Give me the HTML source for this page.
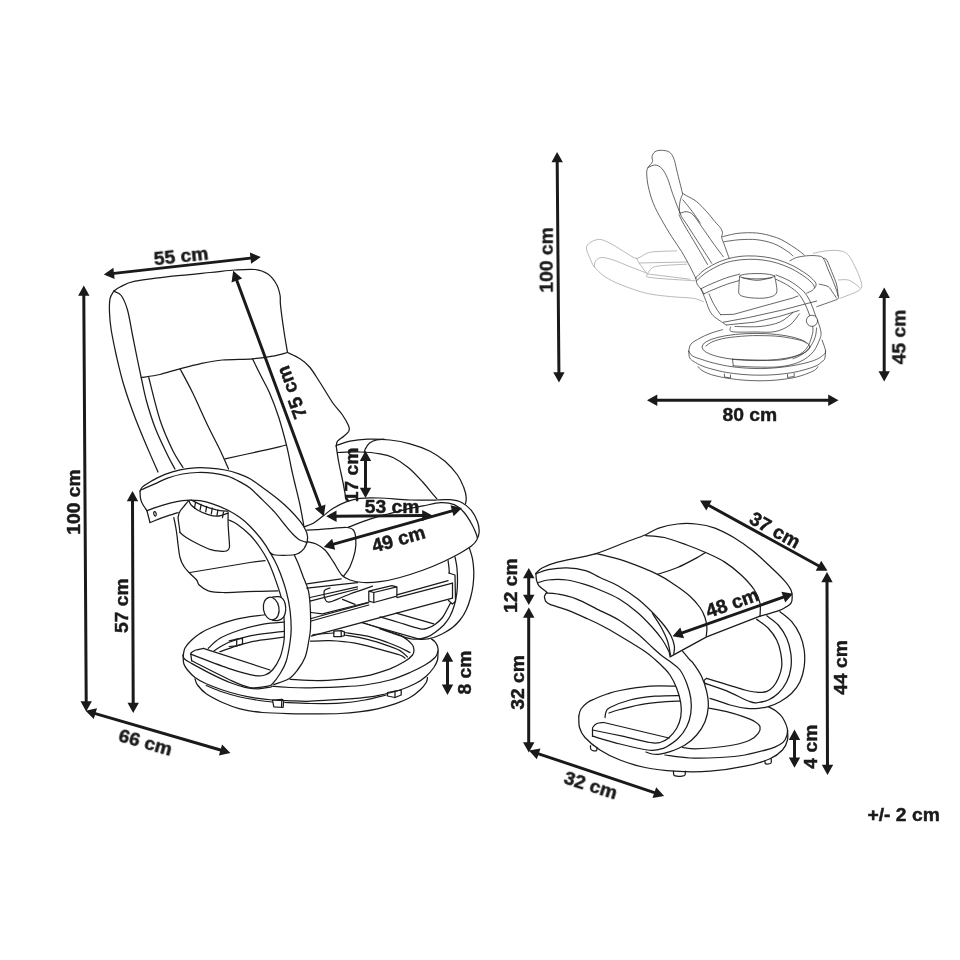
<!DOCTYPE html>
<html lang="en"><head><meta charset="utf-8"><title>Recliner dimensions</title>
<style>
html,body{margin:0;padding:0;background:#fff;}
body{width:960px;height:960px;overflow:hidden;font-family:"Liberation Sans",sans-serif;}
svg{display:block;}
.t{font-family:"Liberation Sans",sans-serif;font-weight:bold;font-size:19.2px;fill:#1a1a1a;stroke:#1a1a1a;stroke-width:0.45px;text-anchor:middle;}
</style></head><body>
<svg width="960" height="960" viewBox="0 0 960 960">
<rect width="960" height="960" fill="#fff"/>
<g fill="none" stroke="#1a1a1a" stroke-width="1.25" stroke-linecap="round" stroke-linejoin="round">
<path d="M113.8 291.2C114.8 290.5 116.5 288.7 120 287C123.5 285.3 126.2 283 135 281.2C143.8 279.5 160 277.7 172.5 276.2C185 274.8 199.6 273.5 210 272.5C220.4 271.5 227.5 270.5 235 270C242.5 269.5 249.6 268.9 255 269.5C260.4 270.1 264 271.4 267.5 273.8C271 276.1 274.2 280.2 276.2 283.8C278.3 287.3 279.3 291.5 280 295C280.7 298.5 279.9 299.2 280.5 305C281.1 310.8 282.6 322.1 283.8 330C284.9 337.9 286.9 348.8 287.5 352.5"/>
<path d="M113.8 291.2C113.1 292.5 110.7 295.2 110 298.8C109.3 302.3 109.3 307.3 109.5 312.5C109.7 317.7 110.1 322.9 111.2 330C112.4 337.1 114.2 345.8 116.2 355C118.3 364.2 120.6 374.6 123.8 385C126.9 395.4 131.2 407.5 135 417.5C138.8 427.5 142.4 435.9 146.2 445C150.1 454.1 156 467.5 158 472"/>
<path d="M113.8 291.2C115 292 119 292.4 121.2 295.5C123.5 298.6 125.6 303.4 127.5 310C129.4 316.6 130.8 326.7 132.5 335C134.2 343.3 136 352.9 137.5 360C139 367.1 139.8 370.8 141.2 377.5C142.7 384.2 144 391.7 146.2 400C148.5 408.3 151.5 418.3 155 427.5C158.5 436.7 164.2 448.1 167.5 455C170.8 461.9 173.8 466.7 175 469"/>
<path d="M148.8 377.5C150.6 384.6 156 407.9 160 420C164 432.1 168.7 442.1 172.5 450C176.3 457.9 181.2 464.6 183 467.5"/>
<path d="M141.2 377.5C144.4 377 153.5 376 160 374.5C166.5 373 173.3 370.5 180 368.8C186.7 367 192.9 365.2 200 363.8C207.1 362.3 213.8 360.8 222.5 360C231.2 359.2 244.2 359.4 252.5 358.8C260.8 358.1 266.7 357.3 272.5 356.2C278.3 355.2 285 353.1 287.5 352.5"/>
<path d="M180 368.8C182.1 372.7 187.9 383.1 192.5 392.5C197.1 401.9 202.9 415.4 207.5 425C212.1 434.6 216.5 442.7 220 450C223.5 457.3 227.1 465.8 228.5 469"/>
<path d="M252.5 358.8C253.9 361.6 258.2 370.4 261 376C263.8 381.6 266.4 385.6 269.4 392.5C272.4 399.4 275.9 408.6 278.8 417.5C281.6 426.4 284.5 437.3 286.6 445.6C288.7 453.9 289.9 461.4 291.2 467.5C292.6 473.6 293 475.8 294.5 482C296 488.2 298.5 497.8 300 505C301.5 512.2 303.1 522.1 303.8 525.5"/>
<path d="M225 458.8C230.8 457.5 249.8 453.5 260 451.2C270.2 449 282.1 446 286.5 445"/>
<path d="M287.5 352.5C289.6 353.5 296.2 356.2 300 358.8C303.8 361.2 306.7 363.5 310 367.5C313.3 371.5 316.2 376.7 320 382.5C323.8 388.3 328.8 397.1 332.5 402.5C336.2 407.9 339.8 411 342.5 415C345.2 419 347.7 423.5 348.8 426.2C349.8 429 349.6 429.6 348.8 431.2C347.9 432.9 345.6 434.6 343.8 436.2C341.9 437.9 338.8 439.6 337.5 441.2C336.2 442.9 336.5 445.4 336.2 446.2"/>
<path d="M336.2 446.2C336.7 449 337.7 456.9 338.8 462.5C339.8 468.1 341.2 473.8 342.5 480C343.8 486.2 345.6 496.7 346.2 500"/>
<path d="M336.2 445.5C338.5 444.8 344.8 442.3 350 441.2C355.2 440.2 360.8 439.5 367.5 439.2C374.2 439 382.9 439.2 390 440C397.1 440.8 403.3 441.9 410 443.8C416.7 445.6 424.2 448.3 430 451.2C435.8 454.2 440.4 457.3 445 461.2C449.6 465.2 454.4 470.6 457.5 475C460.6 479.4 462.3 483.8 463.8 487.5C465.2 491.2 466 494.8 466.2 497.5C466.5 500.2 465.6 502.7 465.5 503.8"/>
<path d="M337.5 452.5C341.2 452.4 352.9 451.8 360 452C367.1 452.2 374.5 452.8 380 453.8C385.5 454.7 388.2 455.2 393 457.5C397.8 459.8 403.6 463.7 408.5 467.8C413.4 471.9 418.9 477.9 422.7 482C426.5 486.1 429.1 489.8 431.5 492.6C433.9 495.4 436 497.8 436.9 498.8"/>
<path d="M384 439.2C382.8 439.3 379.1 439.2 376.7 439.8C374.3 440.4 371.5 441.4 369.6 443C367.7 444.6 366.1 447.6 365.2 449.2C364.3 450.8 364.4 452.2 364.3 452.8"/>
<path d="M304.2 526.7C305.7 526.1 310.1 525.1 313.3 523.3C316.5 521.5 320 518.3 323.3 515.8C326.6 513.3 329.4 510.6 333.3 508.3C337.2 506 342.2 503.4 346.7 501.7C351.1 500 354.4 498.9 360 498.3C365.6 497.7 371.7 497.7 380 498C388.3 498.3 400.6 499.7 410 500C419.4 500.3 430 500.1 436.7 500C443.4 499.9 445.8 499.3 450 499.7C454.2 500.1 458.1 500.6 461.7 502.5C465.3 504.4 469.1 507.6 471.7 510.8C474.3 514 476.2 518.2 477.5 521.7C478.8 525.2 479.3 528.7 479.2 531.7C479.1 534.8 477.9 537.6 476.7 540C475.4 542.4 474.5 543.6 471.7 545.8C468.9 548 464.7 550.6 460 553.3C455.3 555.9 449.4 558.9 443.3 561.7C437.2 564.5 430.5 567.4 423.3 570C416.1 572.6 407.2 575.5 400 577.5C392.8 579.5 386.1 580.9 380 581.7C373.9 582.5 368.3 582.8 363.3 582.5C358.3 582.2 353.6 581.2 350 580C346.4 578.8 344.5 578 341.7 575C338.9 572 336.1 565.9 333.3 561.7C330.5 557.5 327.8 552.9 325 550C322.2 547.1 319.6 545.6 316.7 544.2C313.8 542.8 309 542.1 307.5 541.7"/>
<path d="M306.7 530C308.4 530 312.3 530 316.7 529.7C321.1 529.4 328.3 528.7 333.3 528.3C338.3 527.9 343.4 527.2 346.7 527.5C350 527.8 351.8 528.2 353.3 530C354.8 531.8 355.5 534.7 355.8 538.3C356.1 541.9 356 547 355 551.7C354 556.4 351.9 562.5 350 566.7C348.1 570.9 344.4 575 343.3 576.7"/>
<path d="M348.3 527.1C351.9 525.8 363.4 521.4 370 519.2C376.6 517 382 515.6 388 514C394 512.4 400.2 510.7 406 509.3C411.8 507.9 417.2 507 423 505.9C428.8 504.8 435.5 502.9 440.7 502.7C445.9 502.5 450.4 503.1 454.2 504.6C458 506.2 460.8 508.7 463.7 512C466.6 515.3 469.8 520.6 471.8 524.2C473.9 527.8 475.1 531.3 476 533.5C476.9 535.7 477.1 536.8 477.3 537.5"/>
<path d="M140 491.2C140.4 490.5 140.6 488.6 142.5 486.9C144.4 485.2 147.5 483.3 151.2 481.2C155 479.2 160.2 476.3 165 474.4C169.8 472.5 175 470.9 180 469.8C185 468.6 190 468 195 467.8C200 467.5 205 467.7 210 468.1C215 468.5 220.2 469.1 225 470C229.8 470.9 234.6 472.3 238.8 473.8C242.9 475.2 246 476.5 250 478.8C254 481 257.9 484.2 262.5 487.5C267.1 490.8 272.9 495 277.5 498.8C282.1 502.5 286.2 506.2 290 510C293.8 513.8 297.4 517.9 300 521.2C302.6 524.6 304.4 527.5 305.6 530C306.9 532.5 307.3 534.2 307.5 536.2C307.7 538.3 307.5 540.4 306.9 542.5C306.3 544.6 305.1 547 303.8 548.8C302.4 550.5 300.6 552.1 298.8 553.1C296.9 554.1 296.5 554.7 292.5 555C288.5 555.3 278.8 555.4 275 555C271.2 554.6 270.8 552.9 270 552.5"/>
<path d="M141 490C141.7 489.7 142.7 489.1 145 488.1C147.3 487.1 151.2 485.4 155 483.8C158.8 482.1 162.9 479.7 167.5 478.1C172.1 476.5 177.5 474.9 182.5 474C187.5 473.1 192.5 472.6 197.5 472.5C202.5 472.4 207.5 472.5 212.5 473.1C217.5 473.7 222.9 474.8 227.5 476.2C232.1 477.7 236.2 479.9 240 481.9C243.8 483.9 246.7 485.5 250 488.1C253.3 490.7 256 493.6 260 497.5C264 501.4 269.6 506.7 273.8 511.2C277.9 515.8 281.9 521.2 285 525C288.1 528.8 290.2 531.4 292.5 533.8C294.8 536.1 296.7 538 298.8 539.4C300.8 540.8 303.6 541.4 305 541.9C306.4 542.4 306.7 542.4 307 542.5"/>
<path d="M146.9 510.6C148.7 510 153.7 508.1 157.5 506.9C161.3 505.6 165.8 504.2 170 503.1C174.2 502.1 179.2 501.1 182.5 500.6C185.8 500.1 187.1 500 190 500C192.9 500 196.2 500 200 500.6C203.8 501.2 207.9 502.2 212.5 503.8C217.1 505.3 222.9 507.7 227.5 510C232.1 512.3 236.2 514.8 240 517.5C243.8 520.2 246.7 522.9 250 526.2C253.3 529.6 257.3 534.2 260 537.5C262.7 540.8 264.6 543.8 266.2 546.2C267.9 548.8 268.5 550 270 552.5C271.5 555 273.3 557.9 275 561.2C276.7 564.6 278.1 567.5 280 572.5C281.9 577.5 284.6 585 286.2 591.2C287.9 597.5 289.2 603.8 290 610C290.8 616.2 291.2 623.3 291.2 628.8C291.2 634.2 290.8 637.1 290 642.5C289.2 647.9 287.9 656 286.2 661.2C284.6 666.5 282.3 670 280 673.8C277.7 677.5 274.6 681.7 272.5 683.8C270.4 685.8 271.2 685.6 267.5 686.2C263.8 686.9 256.2 688.5 250 687.5C243.8 686.5 239.7 684.5 230 680C220.3 675.5 198.1 664 191.7 660.8"/>
<path d="M140 491.2C140.1 492.5 140.1 496.5 140.6 498.8C141.1 501 142 503 143.1 505C144.2 507 146.3 509.7 146.9 510.6"/>
<path d="M146.9 510.6L150 522.5"/>
<path d="M150 522.5C151.9 521.8 157.5 519.5 161.2 518.1C165 516.8 169.7 515.3 172.5 514.4C175.3 513.5 177.2 512.8 178.1 512.5"/>
<ellipse cx="155" cy="513.8" rx="1.2" ry="2.3" transform="rotate(-15 155 513.8)"/>
<path d="M228.8 520C230.2 520.7 234 521.9 237.5 524.4C241 526.9 246.2 531.1 250 535C253.8 538.9 257.1 543.3 260 547.5C262.9 551.7 265.2 555.4 267.5 560C269.8 564.6 271.5 568.9 273.8 575C276 581.1 279.3 590 281 596.7C282.7 603.4 283.2 609.5 283.8 615C284.3 620.5 284.4 625.4 284.4 630C284.4 634.6 284.5 637.9 283.8 642.5C283 647.1 281.9 652.9 280 657.5C278.1 662.1 275 667.1 272.5 670C270 672.9 267.9 674.1 265 675C262.1 675.9 260.8 676.6 255 675.6C249.2 674.6 240.7 672.3 230 668.8C219.3 665.2 197.3 656.6 190.8 654.2"/>
<path d="M294.4 555C295.1 556.7 297.4 561.7 298.8 565C300.1 568.3 300.9 570.6 302.5 575C304.1 579.4 307.2 585.4 308.5 591.2C309.8 597.1 310.1 603.8 310.4 610C310.7 616.2 310.8 623.3 310.5 628.8C310.2 634.2 309.4 637.7 308.5 642.5C307.6 647.3 306.8 652.9 305 657.5C303.2 662.1 300.2 666.5 297.5 670C294.8 673.5 292.7 676.3 288.8 678.8C284.8 681.2 276.2 683.6 273.8 684.6"/>
<path d="M270 670L203.3 648.4"/>
<path d="M203.3 648.4C202.1 648.7 198 649.3 196 650C194 650.7 192.4 651.8 191.5 652.5C190.6 653.2 190.9 653.9 190.8 654.2"/>
<path d="M190.8 654.2L191.7 660.8"/>
<path d="M188.8 500.6C188.1 501.3 186.5 503.2 185 505C183.5 506.8 181.2 509.2 180 511.2C178.8 513.3 178.2 514.8 178.1 517.5C178 520.2 179.1 525 179.4 527.5C179.7 530 179.9 531.7 180 532.5"/>
<path d="M180 532.5C181 533.3 183.3 535.6 186.2 537.5C189.2 539.4 193.5 541.8 197.5 543.8C201.5 545.7 206.2 548.1 210 549.4C213.8 550.6 217.3 551 220 551.2C222.7 551.5 224.7 551.6 226.2 551C227.8 550.4 229 550.2 229.4 547.5C229.8 544.8 229 539.2 228.8 535C228.5 530.8 228.2 526.2 228.1 522.5C228 518.8 228.1 514.2 228.1 512.5"/>
<path d="M188.8 500.6C189.2 501.3 189.8 503.4 191.2 505C192.7 506.6 194.8 508.4 197.5 510C200.2 511.6 204.2 513.4 207.5 514.4C210.8 515.4 214.1 516.5 217.5 516.2C220.9 516 226.3 513.6 228.1 513.1"/>
<path d="M191.2 500C192.7 500.7 196.9 503 200 504.4C203.1 505.8 206.7 507.1 210 508.1C213.3 509.1 217 510.1 220 510.6C223 511.1 226.8 511.1 228.1 511.2"/>
<path d="M195.5 502.5L194.5 508.1"/>
<path d="M201.1 504.4L200.1 510"/>
<path d="M206.7 506.3L205.7 511.9"/>
<path d="M212.3 508.2L211.3 513.8"/>
<path d="M217.9 510.1L216.9 515.7"/>
<path d="M223.5 512L222.5 517.6"/>
<path d="M173.8 517.5C174.2 519.6 175.5 525.4 176.2 530C177 534.6 177.5 540.4 178.1 545C178.7 549.6 179.1 554 180 557.5C180.9 561 182.1 563.6 183.8 566.2C185.4 568.9 187.8 571.2 190 573.5C192.2 575.8 195.2 578.1 196.7 580C198.2 581.9 197.3 583.2 199.2 585C201.1 586.8 204.3 589.5 208.3 590.8C212.3 592 216.9 592.4 223.3 592.5C229.7 592.6 237.6 592 246.7 591.7C255.8 591.4 272.8 590.9 278 590.8"/>
<path d="M190 572.5L250 562.5L265 560.6"/>
<path d="M469.4 548.1C469.9 549.9 471.8 554.9 472.5 558.8C473.2 562.6 473.6 566.9 473.8 571.2C473.9 575.6 473.6 580.6 473.1 585C472.6 589.4 471.7 593.3 470.6 597.5C469.5 601.7 468 606.2 466.2 610C464.5 613.8 462.3 617.1 460 620C457.7 622.9 455.4 625.2 452.5 627.5C449.6 629.8 445.6 632.1 442.5 633.8C439.4 635.4 436.2 636.7 433.8 637.5C431.2 638.3 429.8 638.4 427.5 638.8C425.2 639.1 421.2 639.3 420 639.4"/>
<path d="M420 639.4L361.2 622.5"/>
<path d="M455 556.9C455.3 558.7 456.5 563.6 456.9 567.5C457.3 571.4 457.5 575.8 457.5 580C457.5 584.2 457.4 588.3 456.9 592.5C456.4 596.7 455.5 601 454.4 605C453.2 609 451.8 612.9 450 616.2C448.2 619.6 446.2 622.3 443.8 625C441.2 627.7 437.7 630.5 435 632.5C432.3 634.5 430 635.9 427.5 636.9C425 637.9 422.7 638.4 420 638.8C417.3 639.1 415.2 639.5 411.2 638.8C407.3 638 401.5 636.1 396.2 634.4C391 632.7 382.7 629.7 380 628.8"/>
<path d="M448.1 560.6C448.2 561.8 448.8 565.9 449 568C449.2 570.1 449.2 572.2 449.3 573"/>
<path d="M450.5 603C450 604 448.8 606.3 447.5 608.8C446.2 611.2 444.6 614.9 442.5 617.5C440.4 620.1 437.5 622.6 435 624.4C432.5 626.2 430 627.4 427.5 628.1C425 628.8 424.8 629.7 420 628.8C415.2 627.8 405.4 624.5 398.8 622.5C392.1 620.5 383.1 617.8 380 616.9"/>
<path d="M433.8 623.8L396.2 613.1"/>
<path d="M448.8 573L455 575L455.5 601.5L452.3 604L448.5 600.5"/>
<path d="M311.2 618.5L368.8 602.6"/>
<path d="M396.9 594.8L448.1 580.6"/>
<path d="M311.2 621L368.8 605"/>
<path d="M396.9 597.7L452.5 583.1"/>
<path d="M311.2 636.2L452.5 598.1"/>
<path d="M452.5 583.1L452.5 598.1"/>
<path d="M368.8 591.2L368.8 601.2L373.8 602.5L396.9 596.2L396.9 586.9L391.9 585.6L368.8 591.2L373.8 592.5L396.9 586.9"/>
<path d="M373.8 592.5L373.8 602.5"/>
<path d="M306.9 583.8L341.2 578.8"/>
<path d="M306.9 588.1L357.5 582.7"/>
<path d="M310 597.5L357.5 586.9"/>
<path d="M310 601.2L357.5 589"/>
<path d="M372.5 586.2C368.8 587.5 357.1 591.4 350 594C342.9 596.6 334.2 601.1 330 601.9C325.8 602.7 325.9 600.6 325 598.8C324.1 596.9 323.6 592.4 324.4 590.6C325.2 588.8 329.1 588.4 330 588"/>
<path d="M311.2 612.5L322.5 613.8L367.5 602.5"/>
<path d="M342.5 599.4L355 604.4"/>
<path d="M333.8 631.2L341.2 630.6L344.4 631.9L344.4 635.6L341.2 636.5L333.8 636.5L333.8 631.2"/>
<path d="M341.2 630.6L341.2 636.5"/>
<path d="M344.4 632.5C348.2 633.1 360.3 634.6 367.5 636.2C374.7 637.9 382.1 640.6 387.5 642.5C392.9 644.4 396.2 645.8 400 647.5C403.8 649.2 408.3 651.7 410 652.5"/>
<path d="M344.4 635C348.2 635.7 360.3 637.6 367.5 639.4C374.7 641.2 382.1 643.7 387.5 645.6C392.9 647.5 396.7 648.7 400 650.6C403.3 652.5 406.2 655.9 407.5 656.9"/>
<path d="M310.6 641.2C313.8 641.1 322.6 640.3 330 640.6C337.4 640.9 346.7 641.6 355 643.1C363.3 644.6 372.5 647.4 380 649.4C387.5 651.4 395.8 653.5 400 655C404.2 656.5 404.2 657.6 405 658.1"/>
<path d="M313 634.5L333.8 633"/>
<path d="M362.5 622.5L400 635"/>
<path d="M183.3 655C183.6 653.8 183.6 650.5 185 648C186.4 645.5 189.2 642.4 191.7 640C194.2 637.6 196.7 635.6 200 633.5C203.3 631.4 205.6 629.9 211.7 627.5C217.8 625.1 228.1 621.3 236.7 619.2C245.3 617.1 256.9 615.9 263.3 615C269.7 614.1 273.1 614 275 613.8"/>
<path d="M271.2 686.2C274.4 686.5 283.3 687.2 290 687.5C296.7 687.8 302.9 687.9 311.2 687.8C319.6 687.6 331 687.4 340 686.9C349 686.4 356.7 686.1 365 685C373.3 683.9 382.5 682.1 390 680C397.5 677.9 404.2 675 410 672.5C415.8 670 420.8 667.5 425 665C429.2 662.5 432.8 659.8 435 657.5C437.2 655.2 437.6 653.1 438 651.2C438.4 649.4 438 647.8 437.5 646.2C437 644.7 436 643.1 435 641.9C434 640.6 431.9 639.3 431.2 638.8"/>
<path d="M290 679.4C294.6 679.6 309.2 680.6 317.5 680.6C325.8 680.6 332.1 680.1 340 679.4C347.9 678.7 356.7 678 365 676.2C373.3 674.5 383.3 671.2 390 668.8C396.7 666.2 401.2 663.5 405 661.2C408.8 659 411 656.9 412.5 655C414 653.1 414 651.7 414 650C414 648.3 413.6 646.7 412.5 645C411.4 643.3 409.4 641.6 407.5 640C405.6 638.4 402.3 636.3 401.2 635.6"/>
<path d="M208.3 648.3C210.2 646.6 214.7 641.3 220 638.3C225.3 635.2 232.8 632.4 240 630C247.2 627.6 256 625.5 263.3 624.2C270.6 622.9 280.3 622.5 283.7 622.2"/>
<path d="M214.2 650.8C216.5 649.4 222.3 645 228.3 642.5C234.3 640 240.7 637.7 250 635.8C259.3 633.9 278.2 632 283.9 631.3"/>
<path d="M220 651.7C222.8 650.7 230.6 647.6 236.7 645.8C242.8 644 248.9 642.2 256.7 640.8C264.5 639.4 279.2 637.8 283.7 637.2"/>
<path d="M229.2 640.8L236.7 639.2L242.5 638.3L242.5 644.2L236.7 645.8L229.2 646.5"/>
<path d="M236.7 639.2L236.7 645.8"/>
<path d="M183.1 655C183.3 655.7 183.1 657.6 184.5 659C185.9 660.4 186.6 660.6 191.2 663.2C195.9 665.8 205.8 671.3 212.5 674.6C219.2 677.9 225.8 680.9 231.2 683C236.7 685.1 240.5 686.3 245 687.3C249.5 688.3 253.6 688.8 258 688.8C262.4 688.8 269 687.3 271.2 687"/>
<path d="M183.1 655C183.2 656.5 183 661.2 183.8 663.8C184.5 666.2 185.6 667.7 187.5 670C189.4 672.3 191.9 675.2 195 677.5C198.1 679.8 201.7 681.7 206.2 683.8C210.8 685.8 216.9 688.1 222.5 690C228.1 691.9 234.4 693.6 240 695C245.6 696.4 250.8 697.3 256.2 698.1C261.7 698.9 266.9 699.5 272.5 700C278.1 700.5 283.6 700.6 290 700.8C296.4 701 302.7 701.5 311 701.2C319.3 701 332 699.9 340 699.4C348 698.9 352.5 698.7 358.8 698.1C365 697.5 370.6 697 377.5 695.6C384.4 694.2 393.8 692 400 690C406.2 688 410.6 686 415 683.8C419.4 681.5 423.1 679 426.2 676.2C429.4 673.5 431.9 670.2 433.8 667.5C435.6 664.8 436.8 662.7 437.5 660C438.2 657.3 437.9 652.7 438 651.2"/>
<path d="M206.2 685.5C209 686.6 216.9 690.1 222.5 692C228.1 693.9 234.4 695.7 240 697C245.6 698.3 250.8 699.2 256.2 700C261.7 700.8 269.8 701.7 272.5 702"/>
<path d="M285 702.5C289.3 702.7 301.8 703.4 311 703.5C320.2 703.6 331 703.7 340 703.1C349 702.5 357.3 701.4 365 700C372.7 698.6 382.7 695.8 386.2 695"/>
<path d="M195 678.8C195.4 679.8 195.6 682.5 197.5 685C199.4 687.5 202.1 690.8 206.2 693.8C210.4 696.7 216.9 700 222.5 702.5C228.1 705 233.3 707.1 240 708.8C246.7 710.4 253.3 711.7 262.5 712.5C271.7 713.3 285.4 713.5 295 713.8C304.6 714 312.5 713.8 320 713.8C327.5 713.8 333.5 713.8 340 713.5C346.5 713.2 352.5 712.7 358.8 711.9C365 711.1 371.5 710.1 377.5 708.8C383.5 707.4 389.6 705.6 395 703.8C400.4 701.9 405.8 699.8 410 697.5C414.2 695.2 417.3 692.5 420 690C422.7 687.5 425 684.6 426.2 682.5C427.5 680.4 427.3 678.3 427.5 677.5"/>
<path d="M272.5 700L281.9 699.4L283.8 700.6L283.1 707.5L273.8 706.9L272.5 700"/>
<path d="M281.9 699.4L281.5 706.5"/>
<path d="M387.5 692.5L395 691.2L401.2 690L401.2 695L395 697.5L387.5 696L387.5 692.5"/>
<path d="M395 691.2L395 697.5"/>
<path d="M272.5 597.1C273.6 597 277.4 596.3 279.2 596.7C281 597.1 282.2 598.1 283.2 599.3C284.2 600.5 284.8 602.1 285.2 604C285.6 605.9 285.9 608.6 285.6 610.8C285.3 613 284.8 615.6 283.6 617.2C282.4 618.8 280.1 619.9 278.3 620.4C276.5 620.9 273.8 620.4 272.9 620.4Z" fill="#fff"/>
<ellipse cx="271.2" cy="608.5" rx="7.8" ry="11.4" transform="rotate(-10 271.2 608.5)" fill="#fff"/>
</g>
<g fill="none" stroke="#1a1a1a" stroke-width="1.25" stroke-linecap="round" stroke-linejoin="round">
<path d="M578.8 716.2C579.1 715 579.5 711.3 581 709C582.5 706.7 585.2 704.2 587.5 702.5C589.8 700.8 591.8 700.2 595 698.8C598.2 697.3 602.8 695.4 607 694C611.2 692.6 612.8 691.8 620 690.5C627.2 689.2 640.8 687 650 686.2C659.2 685.5 668.3 686 675 686.2C681.7 686.5 687.5 687.3 690 687.5"/>
<path d="M768.3 706.7C769.6 707.4 773.6 709.2 776 711C778.4 712.8 780.6 714.3 782.5 717.5C784.4 720.7 787.1 726.2 787.5 730C787.9 733.8 786.4 737.5 785 740C783.6 742.5 781.5 743.5 779 745C776.5 746.5 775.7 747.1 770 748.8C764.3 750.4 753.3 753.5 745 755C736.7 756.5 729.2 757 720 757.5C710.8 758 699.2 758.4 690 758C680.8 757.6 669.2 755.5 665 755"/>
<path d="M578.8 716.2C578.9 718.1 578.5 724 579.5 727.5C580.5 731 581.6 733.8 585 737.5C588.4 741.2 594.2 746.2 600 750C605.8 753.8 612.5 757.1 620 760C627.5 762.9 635.8 765.6 645 767.5C654.2 769.4 664.2 770.6 675 771.2C685.8 771.9 698.3 772.1 710 771.2C721.7 770.4 735 768.3 745 766.2C755 764.2 763.8 761.5 770 758.8C776.2 756 779.6 753.1 782.5 750C785.4 746.9 786.7 743.3 787.5 740C788.3 736.7 787.5 731.7 787.5 730"/>
<path d="M605 717.5C605.2 716.6 605.2 713.7 606 712C606.8 710.3 606 709.5 610 707.5C614 705.5 622.5 701.9 630 700C637.5 698.1 647.1 697 655 696.2C662.9 695.5 671.7 695.5 677.5 695.5C683.3 695.5 687.9 695.9 690 696"/>
<path d="M609 713C610.8 712.4 614 711 620 709.5C626 708 635.4 705.1 645 703.8C654.6 702.4 670 701.6 677.5 701.2C685 700.9 687.9 701.5 690 701.5"/>
<path d="M700 706.5C701.7 706.8 705.5 707.4 710 708.3C714.5 709.2 721.2 710.3 726.7 711.7C732.2 713.1 738.6 715 743.3 716.7C748 718.4 752.2 720 755 721.7C757.8 723.4 759.5 724.8 760 726.7C760.5 728.6 760 731.1 758.3 733.3C756.6 735.5 754.2 738 750 740C745.8 742 740 743.7 733.3 745C726.6 746.3 716.4 747.4 710 748C703.6 748.6 699.6 748.8 695 748.8C690.4 748.7 684.6 747.7 682.5 747.5"/>
<path d="M590.5 745.5C590.5 746.1 590.3 748.4 590.8 749.3C591.3 750.2 592.5 750.6 593.5 750.8C594.5 751 596 751.1 596.6 750.6C597.2 750.1 596.9 748 597 747.5"/>
<path d="M673.5 771.2C673.6 771.9 673.3 774.2 673.9 775C674.5 775.8 675.6 776 677 776.2C678.4 776.4 680.7 776.4 682 776.2C683.3 776 684.5 775.8 685 775C685.5 774.2 685.2 771.9 685.3 771.2"/>
<path d="M765 760.5C765 761 764.8 762.9 765.3 763.5C765.8 764.1 767 764.1 768 764C769 763.9 770.5 763.9 771 763C771.5 762.1 771.2 759.2 771.2 758.5"/>
<path d="M756.7 619.2C758.6 620.7 765 624.8 768.3 628.3C771.6 631.8 774.6 635.8 776.7 640C778.8 644.2 780 648.8 780.8 653.3C781.6 657.8 782.1 662.5 781.7 666.7C781.3 670.9 779.7 675 778.3 678.3C776.9 681.6 775.2 684.5 773.3 686.7C771.4 688.9 767.8 690.9 766.7 691.7L766.7 691.7L706.7 678.3L706.7 678.3C706.2 678.7 704.3 679.7 704 680.5C703.7 681.3 704.7 681.7 705 683.3C705.3 684.9 705.2 687.5 706 690C706.8 692.5 709.3 696.9 710 698.3L710 698.3C713.3 699.4 723.9 703.3 730 705C736.1 706.7 742 707.8 746.7 708.3C751.4 708.8 754.7 708.6 758.3 708.3C761.9 708 764.7 707.8 768.3 706.7C771.9 705.6 776.1 703.9 780 701.7C783.9 699.5 788.4 696.6 791.7 693.3C795 690 797.9 686.1 800 681.7C802.1 677.3 803.5 672 804.2 666.7C804.9 661.4 804.9 655.3 804.2 650C803.5 644.7 802.1 639.7 800 635C797.9 630.3 795 625.6 791.7 621.7C788.4 617.8 782 613.4 780 611.7Z" fill="#fff" stroke="none"/>
<path d="M756.7 619.2C758.6 620.7 765 624.8 768.3 628.3C771.6 631.8 774.6 635.8 776.7 640C778.8 644.2 780 648.8 780.8 653.3C781.6 657.8 782.1 662.5 781.7 666.7C781.3 670.9 779.7 675 778.3 678.3C776.9 681.6 775.2 684.5 773.3 686.7C771.4 688.9 769.5 690.4 767 691.3C764.5 692.2 761.7 692.5 758 692.3C754.3 692.1 753.5 692.3 745 690C736.5 687.7 713.1 680.2 706.7 678.3"/>
<path d="M706.7 678.3C706.2 678.7 704.3 679.7 704 680.5C703.7 681.3 704.8 682.8 705 683.3"/>
<path d="M766.7 615.8C768.6 617.3 775 621.2 778.3 625C781.6 628.8 784.6 633.6 786.7 638.3C788.8 643 790.1 648.3 790.8 653.3C791.5 658.3 791.5 663.6 790.8 668.3C790.1 673 788.8 677.5 786.7 681.7C784.6 685.9 781.4 690.2 778.3 693.3C775.2 696.3 771.6 698.5 768.3 700C765 701.5 761.3 702.2 758.3 702.5C755.2 702.8 755.3 703.7 750 701.7C744.7 699.8 734.2 693.9 726.7 690.8C719.2 687.7 708.6 684.5 705 683.3"/>
<path d="M780 611.7C782 613.4 788.4 617.8 791.7 621.7C795 625.6 797.9 630.3 800 635C802.1 639.7 803.5 644.7 804.2 650C804.9 655.3 804.9 661.4 804.2 666.7C803.5 672 802.1 677.3 800 681.7C797.9 686.1 795 690 791.7 693.3C788.4 696.6 783.9 699.5 780 701.7C776.1 703.9 771.9 705.6 768.3 706.7C764.7 707.8 761.9 708 758.3 708.3C754.7 708.6 751.4 708.8 746.7 708.3C742 707.8 736.1 706.7 730 705C723.9 703.3 713.3 699.4 710 698.3"/>
<path d="M545.6 601.2C546.3 601.8 546.1 602.8 550 604.4C553.9 606 562.5 608.2 568.8 610.6C575 613 581.2 615.9 587.5 618.8C593.8 621.6 600 624.6 606.2 628C612.5 631.4 618.5 635.1 625 639C631.5 642.9 640 648.1 645 651.5C650 654.9 652 656.9 655 659.5C658 662.1 660.5 664.4 663 667C665.5 669.6 667.7 671.5 670 675C672.3 678.5 674.9 683.6 676.7 688.3C678.5 693 680.1 698.6 680.8 703.3C681.5 708 681.5 712.5 680.8 716.7C680.1 720.9 677.4 726.4 676.7 728.3L668.3 738.3L603.8 722.5L603.8 722.5C602.6 722.7 598.8 722.8 597 723.5C595.2 724.2 593.8 725.9 593 727C592.2 728.1 592.6 728.5 592.5 730C592.4 731.5 592.5 735.2 592.5 736.2L592.5 736.2C597.1 737.5 610.8 741.7 620 744C629.2 746.3 640.8 749.1 647.5 750C654.2 750.9 657.9 749.3 660 749.2L646 752C647 752.3 649.7 753.6 652 754C654.3 754.4 657 754.6 660 754.2C663 753.8 665.8 753.2 670 751.7C674.2 750.2 680.5 747.8 685 745C689.5 742.2 693.4 738.9 696.7 735C700 731.1 703.1 726.4 705 721.7C706.9 717 708 711.7 708.3 706.7C708.6 701.7 707.8 696.7 706.7 691.7C705.6 686.7 703.9 681.4 701.7 676.7C699.5 672 695.2 666.1 693.3 663.3C691.3 660.5 691.8 662 690 660C688.2 658 683.8 652.7 682.5 651.2L682.5 651.2L670 656.2L670 656.2C669.8 655.4 670 654 668.8 651.2C667.5 648.5 665.2 644 662.5 640C659.8 636 656.7 632.1 652.5 627.5C648.3 622.9 643.1 617.3 637.5 612.5C631.9 607.7 625 602.5 618.8 598.8C612.5 595 605.5 592.3 600 590C594.5 587.7 591.1 586.4 585.6 584.7C580.1 583 573.2 580.8 566.9 580C560.6 579.2 552.9 579.5 548 580C543.1 580.5 539.5 582.3 537.8 582.8Z" fill="#fff" stroke="none"/>
<path d="M545.6 601.2C546.3 601.8 546.1 602.8 550 604.4C553.9 606 562.5 608.2 568.8 610.6C575 613 581.2 615.9 587.5 618.8C593.8 621.6 600 624.6 606.2 628C612.5 631.4 618.5 635.1 625 639C631.5 642.9 640 648.1 645 651.5C650 654.9 652 656.9 655 659.5C658 662.1 660.5 664.4 663 667C665.5 669.6 667.7 671.5 670 675C672.3 678.5 674.9 683.6 676.7 688.3C678.5 693 680.1 698.6 680.8 703.3C681.5 708 681.5 712.5 680.8 716.7C680.1 720.9 678.8 724.7 676.7 728.3C674.6 731.9 671.1 735.9 668.3 738.3C665.5 740.7 663 741.8 660 742.5C657 743.2 656.2 743.5 650 742.5C643.8 741.5 632.1 738.3 622.5 736.2C612.9 734.2 597.5 731 592.5 730"/>
<path d="M546.2 593.1C548.1 593.2 552.5 593.1 557.5 594C562.5 594.9 569.2 596 576.2 598.8C583.3 601.5 592.9 607.1 600 610.6C607.1 614.1 612.5 616.1 618.8 620C625 623.9 631.9 629.2 637.5 633.8C643.1 638.3 648.3 643.8 652.5 647.5C656.7 651.2 659.2 653.7 662.5 656.2C665.8 658.8 669.1 660.7 672 663C674.9 665.3 677.5 666.6 680 670C682.5 673.4 684.9 678.6 686.7 683.3C688.5 688 690.1 693.3 690.8 698.3C691.5 703.3 691.5 708.6 690.8 713.3C690.1 718 688.8 722.5 686.7 726.7C684.6 730.9 681.6 735 678.3 738.3C675 741.6 669.8 744.9 666.7 746.7C663.7 748.5 663.2 748.7 660 749.2C656.8 749.8 654.2 750.9 647.5 750C640.8 749.1 629.2 746.3 620 744C610.8 741.7 597.1 737.5 592.5 736.2"/>
<path d="M682.5 651.2C683.8 652.7 688.2 658 690 660C691.8 662 691.3 660.5 693.3 663.3C695.2 666.1 699.5 672 701.7 676.7C703.9 681.4 705.6 686.7 706.7 691.7C707.8 696.7 708.6 701.7 708.3 706.7C708 711.7 706.9 717 705 721.7C703.1 726.4 700 731.1 696.7 735C693.4 738.9 689.5 742.2 685 745C680.5 747.8 674.2 750.2 670 751.7C665.8 753.2 663 753.8 660 754.2C657 754.6 654.3 754.4 652 754C649.7 753.6 647 752.3 646 752"/>
<path d="M546.2 593.1C545.9 593.7 544.5 595.1 544.4 596.5C544.3 597.9 545.4 600.5 545.6 601.2"/>
<path d="M603.8 722.5L669 738"/>
<path d="M603.8 722.5C602.6 722.7 598.8 722.8 597 723.5C595.2 724.2 593.8 725.9 593 727C592.2 728.1 592.6 729.5 592.5 730"/>
<path d="M592.5 730L592.5 736.2"/>
<path d="M535.9 573.4C537 572.5 538.9 569.7 542.5 567.8C546.1 565.9 548.8 564.5 557.5 562.2C566.2 559.9 583.8 557 595 553.8C606.2 550.5 616.6 545.7 625 542.5C633.4 539.3 640 537.1 645.6 534.7C651.2 532.3 653.4 529.9 658.8 528.1C664.1 526.3 671.2 524.7 677.5 524C683.8 523.3 690 523.3 696.2 524C702.5 524.7 708.8 525.9 715 528.1C721.2 530.4 727.5 533.8 733.8 537.5C740 541.2 746.2 545.6 752.5 550.6C758.8 555.6 765.9 562.5 771.2 567.5C776.6 572.5 781.1 576.9 784.4 580.6C787.7 584.4 789.7 587.2 791 590C792.3 592.8 792.2 595.3 792.2 597.5C792.2 599.7 792 601.5 791 603.1C790 604.7 788.3 605.6 786.2 606.9C784.2 608.1 783.1 609 778.8 610.6C774.4 612.2 763.1 615.3 760 616.2L760 616.2C751.1 619.7 721.6 630.1 706.6 636.9C691.6 643.7 676.1 653.6 670 656.9L670 656.2C669.8 655.4 670 654 668.8 651.2C667.5 648.5 665.2 644 662.5 640C659.8 636 656.7 632.1 652.5 627.5C648.3 622.9 643.1 617.3 637.5 612.5C631.9 607.7 625 602.5 618.8 598.8C612.5 595 605.5 592.3 600 590C594.5 587.7 591.1 586.4 585.6 584.7C580.1 583 573.2 580.8 566.9 580C560.6 579.2 552.9 579.5 548 580C543.1 580.5 539.5 582.3 537.8 582.8L538.8 585.6C538.4 584.7 537 582 536.5 580C536 578 536 574.5 535.9 573.4Z" fill="#fff" stroke="none"/>
<path d="M535.9 573.4C537 572.5 538.9 569.7 542.5 567.8C546.1 565.9 548.8 564.5 557.5 562.2C566.2 559.9 583.8 557 595 553.8C606.2 550.5 616.6 545.7 625 542.5C633.4 539.3 640 537.1 645.6 534.7C651.2 532.3 653.4 529.9 658.8 528.1C664.1 526.3 671.2 524.7 677.5 524C683.8 523.3 690 523.3 696.2 524C702.5 524.7 708.8 525.9 715 528.1C721.2 530.4 727.5 533.8 733.8 537.5C740 541.2 746.2 545.6 752.5 550.6C758.8 555.6 765.9 562.5 771.2 567.5C776.6 572.5 781.1 576.9 784.4 580.6C787.7 584.4 789.7 587.2 791 590C792.3 592.8 792.2 595.3 792.2 597.5C792.2 599.7 792 601.5 791 603.1C790 604.7 788.3 605.6 786.2 606.9C784.2 608.1 783.1 609 778.8 610.6C774.4 612.2 763.1 615.3 760 616.2"/>
<path d="M760 616.2L706.6 636.9L670 656.9"/>
<path d="M535.9 573.4C536 574.5 536 578 536.5 580C537 582 537.4 583.9 538.8 585.6C540.1 587.3 543 589.1 544.4 590.3C545.8 591.4 546.6 592.1 547 592.5"/>
<path d="M595 553.8C595.8 553.9 595 553.1 600 554.4C605 555.6 615.4 557.9 625 561.2C634.6 564.6 649.2 570.4 657.5 574.4C665.8 578.4 669.6 581.4 675 585C680.4 588.6 685.8 592.5 690 596.2C694.2 600 697.5 604 700 607.5C702.5 611 703.9 614.2 705 617.5C706.1 620.8 706.7 624.4 706.9 627.5C707.1 630.6 706.4 634.8 706.2 636.2"/>
<path d="M645.6 535.6C648.7 535.9 657.5 535.9 664.4 537.5C671.3 539.1 680 542.5 686.9 545C693.8 547.5 699.4 549.7 705.6 552.5C711.9 555.3 718.5 558.1 724.4 561.9C730.3 565.6 736.2 570.3 741.2 575C746.2 579.7 751.3 585.3 754.4 590C757.5 594.7 759.1 598.7 760 603.1C760.9 607.5 760 614.1 760 616.2"/>
<path d="M657.5 574.4C660.8 573.2 671 570.2 677.5 567.5C684 564.8 691.6 560.6 696.2 558.1C700.9 555.6 704 553.4 705.6 552.5"/>
<path d="M535.9 573.9C537.9 573.2 542.8 570.7 548 569.7C553.2 568.7 560.6 567.6 566.9 567.8C573.2 567.9 580.1 569 585.6 570.6C591.1 572.2 594.5 574.9 600 577.5C605.5 580.1 612.5 582.7 618.8 586.2C625 589.8 631.9 594.4 637.5 598.8C643.1 603.1 648.1 608.1 652.5 612.5C656.9 616.9 660.6 621 663.8 625C666.9 629 669.5 632.7 671.2 636.2C673 639.8 674 643.3 674.4 646.2C674.8 649.2 673.9 652.5 673.8 653.8"/>
<path d="M652.5 613.5C653.9 615.8 658.5 622.4 661 627C663.5 631.6 665.9 636.3 667.5 641C669.1 645.7 670 652.7 670.5 655"/>
<path d="M537.8 582.8C539.5 582.3 543.1 580.5 548 580C552.9 579.5 560.6 579.2 566.9 580C573.2 580.8 580.1 583 585.6 584.7C591.1 586.4 594.5 587.7 600 590C605.5 592.3 612.5 595 618.8 598.8C625 602.5 631.9 607.7 637.5 612.5C643.1 617.3 648.3 622.9 652.5 627.5C656.7 632.1 659.8 636 662.5 640C665.2 644 667.5 648.5 668.8 651.2C670 654 669.8 655.4 670 656.2"/>
</g>
<g fill="none" stroke="#8c8c8c" stroke-width="0.6" stroke-linecap="round" stroke-linejoin="round">
<path d="M676.7 250.8C673.1 251 660 251.3 655 251.7C650 252.1 649.8 252.2 646.7 253.3C643.7 254.4 640 258.3 636.7 258.3C633.4 258.3 630.6 255.5 626.7 253.3C622.8 251.1 617.5 247.3 613.3 245C609.1 242.7 605 240.4 601.7 239.7C598.4 239 595.7 239.9 593.3 240.8C590.9 241.7 588.6 243.5 587.5 245C586.4 246.5 586.3 247.8 586.7 250C587.1 252.2 588.8 255.5 590 258.3C591.2 261.1 591.7 263.6 594.2 266.7C596.7 269.8 600.4 273.6 605 276.7C609.6 279.8 614.8 282.2 621.7 285C628.7 287.8 638.4 291.4 646.7 293.3C655 295.2 663.9 295.9 671.7 296.7C679.5 297.5 688 297.5 693.3 298.3C698.6 299.1 701.6 301.1 703.3 301.7"/>
<path d="M594.2 266.7C594.5 265.7 594.5 262.3 595.8 260.8C597 259.3 598.8 257.6 601.7 257.5C604.6 257.4 608.6 258.5 613.3 260C618 261.5 624.4 264.5 630 266.7C635.6 268.9 643.4 271.5 646.7 273.3C650 275.1 642 276.2 650 277.5C658 278.8 687.5 280.2 695 280.8"/>
<path d="M636.7 258.3C637.1 259.1 637.5 260.8 639.2 263.3C640.9 265.8 645.5 271.6 646.7 273.3"/>
<path d="M639.5 263L686.7 262"/>
<path d="M648 273C648.6 272.2 649.7 269.5 651.7 268.3C653.7 267.1 654.2 266.5 660 265.8C665.8 265.1 682.2 264.5 686.7 264.2"/>
<path d="M648 274L690 279.2"/>
<path d="M813.3 253.3C815.5 252.9 822.2 251.2 826.7 250.8C831.2 250.4 836.4 250.1 840 250.8C843.6 251.5 845.8 252.3 848.3 255C850.8 257.6 853 262.8 855 266.7C857 270.6 858.9 275 860 278.3C861.1 281.6 862.2 284.5 861.7 286.7C861.2 288.9 860.3 289.8 856.7 291.7C853.1 293.6 842.8 297.2 840 298.3"/>
<path d="M838.3 280C840 280 845.2 279.2 848.3 280C851.4 280.8 854.8 283.7 856.7 285C858.7 286.3 859.5 287.5 860 288"/>
</g>
<g fill="none" stroke="#333" stroke-width="0.75" stroke-linecap="round" stroke-linejoin="round">
<path d="M682.5 193.3C682.1 191.6 681 187.2 680 183.3C679 179.4 677.8 174.2 676.7 170C675.7 165.8 675 161.3 673.7 158.3C672.5 155.3 671.2 153.3 669.2 152C667.2 150.7 664.1 150.4 661.7 150.3C659.3 150.2 656.6 150.6 655 151.7C653.4 152.8 652.4 155 652 156.7C651.6 158.4 653.2 159.9 652.5 161.7C651.8 163.5 649 165.6 648 167.5C647 169.4 646.7 170.1 646.7 173.3C646.8 176.5 647.2 181.7 648.3 186.7C649.4 191.7 651.1 197.8 653.3 203.3C655.5 208.9 658.6 214.4 661.7 220C664.8 225.6 668.4 231.4 671.7 236.7C675 242 678.7 246.7 681.7 251.7C684.8 256.7 687.6 262.3 690 266.7C692.4 271.1 694.8 276.4 695.8 278.3"/>
<path d="M648 167.5C649.2 167.1 652.7 164.9 655 165C657.3 165.1 659.6 166.1 661.7 168.3C663.8 170.5 665.7 174.1 667.5 178.3C669.3 182.5 670.8 188.6 672.5 193.3C674.2 198 676.2 203.4 677.5 206.7C678.8 210 679.6 212.2 680 213.3"/>
<path d="M682.5 193.3C683.2 193.7 684.3 194.4 686.7 195.8C689.1 197.2 693.4 199 696.7 201.7C700 204.3 703.7 208.4 706.7 211.7C709.8 215 712.6 218.9 715 221.7C717.4 224.5 719.5 226.4 720.8 228.3C722 230.2 722.4 231.8 722.5 233.3C722.6 234.8 721.3 235.3 721.7 237.5C722.1 239.7 723.8 243.2 725 246.7C726.2 250.2 728.5 256.4 729.2 258.3"/>
<path d="M682.5 194.5C682.1 195.7 680.4 198.6 680 201.7C679.6 204.8 678.6 209.1 680 213.3C681.4 217.5 685 221.4 688.3 226.7C691.6 232 696.1 238.9 700 245C703.9 251.1 709.8 260.2 711.7 263.3"/>
<path d="M682.7 199.7C683.9 201.2 687.4 205.1 690 208.5C692.6 211.9 696.6 217.6 698.3 220C700 222.4 700 222.6 700.4 223.1"/>
<path d="M679 214.8C679.8 216.4 681.9 220.9 683.8 224.2C685.6 227.5 687.9 231.1 690 234.6C692.1 238.1 693.3 240 696.2 245C699.2 250 705.6 261.2 707.5 264.5"/>
<path d="M680 213.3C681.1 213 684.5 211.4 686.7 211.7C688.9 212 690.8 212.5 693.3 215C695.8 217.5 698.4 222 701.7 226.7C705 231.4 709.7 238.3 713.3 243.3C716.9 248.3 721.6 254.5 723.3 256.7"/>
<path d="M722.5 236.7C725.1 236.1 732.6 233.9 738.3 233.3C744 232.7 750.9 232.5 756.7 233C762.5 233.5 768.4 235.1 773.1 236.5C777.8 237.9 780.7 239.2 784.8 241.5C788.9 243.8 794.7 247.8 797.9 250C801.1 252.2 803.2 254.2 804.2 255"/>
<path d="M724.2 241.7C726.8 241.4 734.6 240 740 239.7C745.4 239.4 751.2 239.1 756.7 239.7C762.2 240.3 768.3 241.7 773.3 243.5C778.3 245.3 783.4 248.7 786.7 250.8C790 252.9 792 255.1 793 256"/>
<path d="M695.8 277.8C697.3 276.5 700.7 272.5 704.6 269.8C708.5 267.1 714.3 263.9 719.2 261.8C724.1 259.7 728.9 258.4 733.8 257.4C738.6 256.4 743.4 256 748.3 255.9C753.2 255.8 758 256.1 762.9 256.7C767.8 257.3 772.6 258.2 777.5 259.6C782.4 261.1 787.2 263 792.1 265.4C797 267.8 803.1 271.6 806.7 274.2C810.4 276.8 812.4 278.9 814 280.7C815.6 282.5 816.4 283.5 816.1 285.1C815.9 286.7 814.1 288.9 812.5 290.2C810.9 291.5 807.7 292.6 806.7 293.1"/>
<path d="M696.6 280.7C698.2 279.4 702 275.4 706 272.7C710 270 716 266.7 720.6 264.7C725.2 262.7 729.1 261.6 733.8 260.8C738.4 259.9 743.4 259.4 748.3 259.3C753.2 259.2 758 259.4 762.9 260C767.8 260.6 772.6 261.7 777.5 263.2C782.4 264.7 787.5 266.7 792.1 269C796.7 271.3 801.8 274.7 805.2 277.1C808.6 279.5 811 281.9 812.5 283.6C814 285.3 814.2 286.9 814.5 287.5"/>
<path d="M700.9 288.8C702.7 287.9 707.6 285.4 711.9 283.6C716.2 281.8 721.9 279.4 726.5 277.8C731.1 276.2 737.4 274.8 739.6 274.2"/>
<path d="M703.9 293.9C705.2 293.3 708.1 291.8 711.9 290.2C715.7 288.6 722 286 726.5 284.4C731 282.8 736.8 281.3 738.9 280.7"/>
<path d="M695.8 277.8C696 278.9 696.4 282.6 697.3 284.4C698.1 286.2 699.8 287.2 700.9 288.8C702 290.3 703.4 293 703.9 293.9"/>
<path d="M700.9 288.8C701.5 290.2 703.2 294.1 704.6 297.5C706 300.9 707.6 306.2 709 309.2C710.4 312.2 711.2 313.6 713.1 315.6C715 317.6 718.4 319.7 720.6 321.2C722.8 322.8 725.3 324.4 726.2 325"/>
<path d="M709 293.9C709.7 295.5 711.8 300.5 713.3 303.3C714.8 306.1 716.5 308.7 717.7 310.6C718.9 312.5 720.1 314 720.6 314.7"/>
<path d="M720.6 314.7L733.8 314.3L762.9 306.2L792.1 298.2L797.9 296"/>
<path d="M723.4 322.2L748.8 317.5L782.5 310L816.7 301"/>
<path d="M726.2 325L754.4 322.2L778.8 316.6L799 310.5"/>
<path d="M730.9 326.9C731.1 327.7 727.9 330.8 731.9 331.6C735.9 332.5 747.8 332 755 332C762.2 332 769.2 332.8 775 331.6C780.8 330.4 785.9 328 790 325C794.1 322 797.8 315.6 799.4 313.8"/>
<path d="M735 326.5C739.2 326.5 752.5 327.2 760 326.5C767.5 325.8 774.5 324.3 780 322C785.5 319.7 790.8 314.1 793 312.5"/>
<ellipse cx="757.1" cy="276.2" rx="17.5" ry="2.7"/>
<path d="M739.6 276.4C739.5 278.2 738.9 284.3 738.9 287.3C738.9 290.3 738 292.9 739.6 294.6C741.2 296.3 744.4 296.9 748.3 297.5C752.2 298.1 758.8 298.4 762.9 298.2C767 297.9 770.8 297.1 773.1 296C775.4 294.9 776.3 293.9 776.8 291.7C777.3 289.5 776.4 285.6 776 282.9C775.6 280.2 774.8 276.8 774.6 275.6"/>
<path d="M743 278C745.3 278.4 752.2 280.3 757 280.3C761.8 280.3 769.1 278.2 771.5 277.8"/>
<path d="M776 274.9C778.2 275.9 785.1 278.4 789.2 280.7C793.3 283 797.9 286.3 800.8 288.8C803.7 291.2 805 292.9 806.7 295.3C808.4 297.7 809.6 300.2 811 303.3C812.4 306.4 813.6 310.2 815 314C816.4 317.8 818.5 322.8 819.5 326C820.5 329.2 820.9 330.9 821 333C821.1 335.1 821.3 335.4 820 338.5C818.7 341.6 816.6 347.8 813.3 351.7C810 355.6 805.5 359.2 800 361.7C794.5 364.2 787.5 365.8 780 366.7C772.5 367.6 762.8 367.1 755 367C747.2 366.9 736.9 366 733.3 365.8"/>
<path d="M776 279.3C777.7 280.1 782.8 282.3 786.2 284.4C789.7 286.5 793.8 289.3 796.5 291.7C799.2 294.1 800.6 296.3 802.3 299C804 301.7 805.4 304.8 806.7 307.7C808 310.6 809 313.3 810 316.7C811 320.1 812.6 324.7 812.9 328C813.2 331.3 812.7 333.3 811.7 336.7C810.7 340.1 809.2 345.1 806.7 348.3C804.2 351.5 801.2 353.9 796.7 355.8C792.2 357.8 787 359.3 780 360C773 360.7 762.9 360.1 755 360C747.1 359.9 736.2 359.3 732.5 359.2"/>
<path d="M732.5 359.2L733.3 365.8"/>
<path d="M793 358.8C794.7 358 800 356 803 353.8C806 351.6 809 348.5 811 345.6C813 342.8 814.4 339.6 815.3 336.7C816.2 333.8 816.4 329.4 816.6 328"/>
<ellipse cx="812" cy="320.8" rx="5.6" ry="5.6" fill="#fff"/>
<path d="M790 260.8C791.1 260.2 793.9 258.3 796.7 257.5C799.5 256.7 803.4 256.1 806.7 255.8C810 255.5 813.9 255.4 816.7 255.8C819.5 256.2 821.4 255.9 823.3 258.3C825.2 260.7 826.6 266.1 828.3 270C830 273.9 831.8 277.8 833.3 281.7C834.8 285.6 836.7 290.5 837.5 293.3C838.3 296.1 839 297.1 838.3 298.3C837.6 299.6 836.9 299.4 833.3 300.8C829.7 302.2 819.5 305.7 816.7 306.7"/>
<path d="M823.3 258.3C823.9 258.6 825.3 257.8 826.7 260C828.1 262.2 830 267.5 831.7 271.7C833.4 275.9 835.7 280.9 836.7 285C837.8 289.1 837.8 294.2 838 296"/>
<path d="M819.2 284.2C820.7 284.6 825.9 285.2 828.3 286.7C830.6 288.2 831.9 291.4 833.3 293.3C834.7 295.2 836 297.2 836.5 298"/>
<path d="M688.8 351.2C689.1 350 689.1 346.2 691 344C692.9 341.8 696.8 339.9 700 338.1C703.2 336.4 706.2 334.9 710 333.5C713.8 332.1 720.4 330.3 722.5 329.7"/>
<path d="M822 340C822.6 341.9 825.5 348.7 825.6 351.2C825.7 353.8 824.1 354.2 822.5 355.6C820.9 357 819.2 358.3 816.2 359.5C813.3 360.8 809.1 362.1 805 363.1C800.9 364.1 796.7 365 791.9 365.8C787.1 366.6 781.3 367.3 776 367.8C770.7 368.3 765.7 368.6 760 368.6C754.3 368.6 747.6 368.3 742 367.8C736.4 367.3 731.2 366.7 726.2 365.8C721.2 364.9 716.1 363.6 712 362.6C707.9 361.6 705.1 360.6 701.9 359.5C698.6 358.4 694.7 357.4 692.5 356C690.3 354.6 689.4 352 688.8 351.2"/>
<path d="M688.8 351.2C688.9 352.4 688.8 356.2 689.7 357.9C690.6 359.7 692 360.3 694 361.6C696 362.9 698.9 364.6 701.9 365.8C704.9 367.1 707.9 368 712 369.1C716.1 370.2 721.2 371.5 726.2 372.4C731.2 373.2 736.4 373.9 742 374.4C747.6 374.9 754.3 375.2 760 375.2C765.7 375.2 770.7 375 776 374.6C781.3 374.2 787.1 373.5 791.9 372.7C796.7 371.9 800.9 370.8 805 369.6C809.1 368.5 813.4 367.1 816.2 365.8C819.1 364.5 820.6 362.8 822 361.6C823.4 360.4 824.1 360.5 824.7 358.8C825.3 357 825.5 352.5 825.6 351.2"/>
<path d="M698 366.6C698.6 367.2 699.9 369 701.5 370.1C703.1 371.2 705.1 372.3 707.5 373.3C709.9 374.3 712.9 375.1 716 375.9C719.1 376.7 721.9 377.3 726.2 378C730.6 378.7 736.4 379.5 742 380C747.6 380.5 754.3 380.8 760 380.8C765.7 380.8 770.7 380.6 776 380.1C781.3 379.6 787.4 378.8 791.9 378C796.4 377.2 799.6 376.2 803 375.1C806.4 374 810.3 372.4 812.5 371.4C814.7 370.4 815.1 369.9 816 369.1C816.9 368.3 817.7 367 818 366.6"/>
<ellipse cx="756" cy="347" rx="54" ry="13.6"/>
<path d="M706 346C707.2 345.2 709.6 342.8 713 341.5C716.4 340.2 720.9 338.9 726.2 338C731.6 337.1 739.4 336.4 745 336C750.6 335.6 754.2 335.5 760 335.6C765.8 335.7 773.1 335.7 780 336.5C786.9 337.3 796.9 339.3 801.2 340.5C805.6 341.7 805.2 343 806 343.5"/>
<path d="M724.4 374L724.4 377L730.5 378L730.5 375"/>
<path d="M787.5 374.5L787.5 377.5L794.2 376.5L794.2 373.5"/>
</g>
<g fill="#1a1a1a" stroke="none">
<path d="M103.8 274.5L114.6 279L114.2 274.8L250.7 259.6L251.1 263.8L260.8 257L249.9 252.5L250.3 256.7L113.8 271.9L113.4 267.7Z"/>
<path d="M83.8 285.5L78.1 295.8L82.3 295.8L84.7 701.2L80.5 701.2L86.2 711.5L91.9 701.2L87.7 701.2L85.3 295.8L89.5 295.8Z"/>
<path d="M233.2 270.8L231.5 282.4L235.4 280.9L318.8 507.1L314.8 508.6L323.8 516.2L325.5 504.6L321.6 506.1L238.2 279.9L242.2 278.4Z"/>
<path d="M365.5 450.8L359.8 461.1L364 461.1L364 487.7L359.8 487.7L365.5 498L371.2 487.7L367 487.7L367 461.1L371.2 461.1Z"/>
<path d="M326.2 516.2L336.6 521.9L336.6 517.7L422.2 517.1L422.2 521.3L432.5 515.5L422.2 509.9L422.2 514.1L336.5 514.7L336.5 510.5Z"/>
<path d="M323.8 547L335.2 549.7L334.1 545.6L452.5 512.2L453.6 516.3L462 508L450.5 505.3L451.7 509.4L333.3 542.8L332.1 538.7Z"/>
<path d="M132.5 491L126.8 501.3L131 501.3L131.7 702.7L127.5 702.7L133.2 713L138.9 702.7L134.7 702.7L134 501.3L138.2 501.3Z"/>
<path d="M85.5 710.8L93.8 719.1L95 715.1L220.1 751.5L218.9 755.5L230.4 752.9L222.1 744.6L220.9 748.6L95.8 712.2L97 708.2Z"/>
<path d="M447.5 651.4L441.8 661.7L446 661.7L446 684.6L441.8 684.6L447.5 694.9L453.2 684.6L449 684.6L449 661.7L453.2 661.7Z"/>
<path d="M557.1 152L551.5 162.3L555.7 162.3L557.4 372.2L553.2 372.2L559 382.5L564.6 372.2L560.4 372.2L558.7 162.3L562.9 162.3Z"/>
<path d="M647 400.3L657.3 406L657.3 401.8L828.2 401.8L828.2 406L838.5 400.3L828.2 394.6L828.2 398.8L657.3 398.8L657.3 394.6Z"/>
<path d="M884.2 287.6L878.5 297.9L882.7 297.9L882.7 371.2L878.5 371.2L884.2 381.5L889.9 371.2L885.7 371.2L885.7 297.9L889.9 297.9Z"/>
<path d="M528.8 568L523 578.3L527.2 578.3L527.2 594.7L523 594.7L528.8 605L534.5 594.7L530.2 594.7L530.2 578.3L534.5 578.3Z"/>
<path d="M528.8 607.5L523 617.8L527.2 617.8L527.2 742.2L523 742.2L528.8 752.5L534.5 742.2L530.2 742.2L530.2 617.8L534.5 617.8Z"/>
<path d="M528.9 750.5L536.8 759.2L538.2 755.2L653.9 794.1L652.5 798.1L664.1 796L656.2 787.3L654.8 791.3L539.1 752.4L540.5 748.4Z"/>
<path d="M700 500.5L706.3 510.5L708.3 506.8L817.8 567.1L815.7 570.8L827.5 570.8L821.2 560.8L819.2 564.5L709.7 504.2L711.8 500.5Z"/>
<path d="M672.5 636.2L684.1 638.2L682.7 634.2L783.8 598.6L785.2 602.6L793 593.8L781.4 591.8L782.8 595.8L681.7 631.4L680.3 627.4Z"/>
<path d="M827 572L821.3 582.3L825.5 582.3L826 764.7L821.8 764.7L827.5 775L833.2 764.7L829 764.7L828.5 582.3L832.7 582.3Z"/>
<path d="M794.5 729.6L788.8 739.9L793 739.9L793 757.5L788.8 757.5L794.5 767.8L800.2 757.5L796 757.5L796 739.9L800.2 739.9Z"/>
</g>
<g class="t" opacity="0.999">
<text transform="translate(181 255.4) rotate(-6.3) scale(1.005 1)" x="0" y="6.6">55 cm</text>
<text transform="translate(73 502) rotate(-90) scale(1.005 1)" x="0" y="6.6">100 cm</text>
<text transform="translate(291.6 392.3) rotate(-110.2) scale(1.005 1)" x="0" y="6.6">75 cm</text>
<text transform="translate(351.8 475) rotate(-90) scale(1.005 1)" x="0" y="6.6">17 cm</text>
<text transform="translate(392 506.5) rotate(0) scale(1.005 1)" x="0" y="6.6">53 cm</text>
<text transform="translate(398.5 539) rotate(-15.8) scale(1.005 1)" x="0" y="6.6">49 cm</text>
<text transform="translate(121.2 605.6) rotate(-90) scale(1.005 1)" x="0" y="6.6">57 cm</text>
<text transform="translate(145.7 741.7) rotate(15.8) scale(1.005 1)" x="0" y="6.6">66 cm</text>
<text transform="translate(464 672.5) rotate(-90) scale(1.005 1)" x="0" y="6.6">8 cm</text>
<text transform="translate(545.7 260) rotate(-90) scale(1.005 1)" x="0" y="6.6">100 cm</text>
<text transform="translate(749.8 414.4) rotate(0) scale(1.005 1)" x="0" y="6.6">80 cm</text>
<text transform="translate(898.4 337) rotate(-90) scale(1.005 1)" x="0" y="6.6">45 cm</text>
<text transform="translate(510.5 585.6) rotate(-90) scale(1.005 1)" x="0" y="6.6">12 cm</text>
<text transform="translate(517.5 682.5) rotate(-90) scale(1.005 1)" x="0" y="6.6">32 cm</text>
<text transform="translate(591 784.6) rotate(17.4) scale(1.005 1)" x="0" y="6.6">32 cm</text>
<text transform="translate(775 530) rotate(28.9) scale(1.005 1)" x="0" y="6.6">37 cm</text>
<text transform="translate(732.2 602.8) rotate(-19.4) scale(1.005 1)" x="0" y="6.6">48 cm</text>
<text transform="translate(840 667.5) rotate(-90) scale(1.005 1)" x="0" y="6.6">44 cm</text>
<text transform="translate(810.6 746.7) rotate(-90) scale(1.005 1)" x="0" y="6.6">4 cm</text>
<text transform="translate(903.6 814.3) rotate(0) scale(1.005 1)" x="0" y="6.6">+/- 2 cm</text>
</g>
</svg>
</body></html>
